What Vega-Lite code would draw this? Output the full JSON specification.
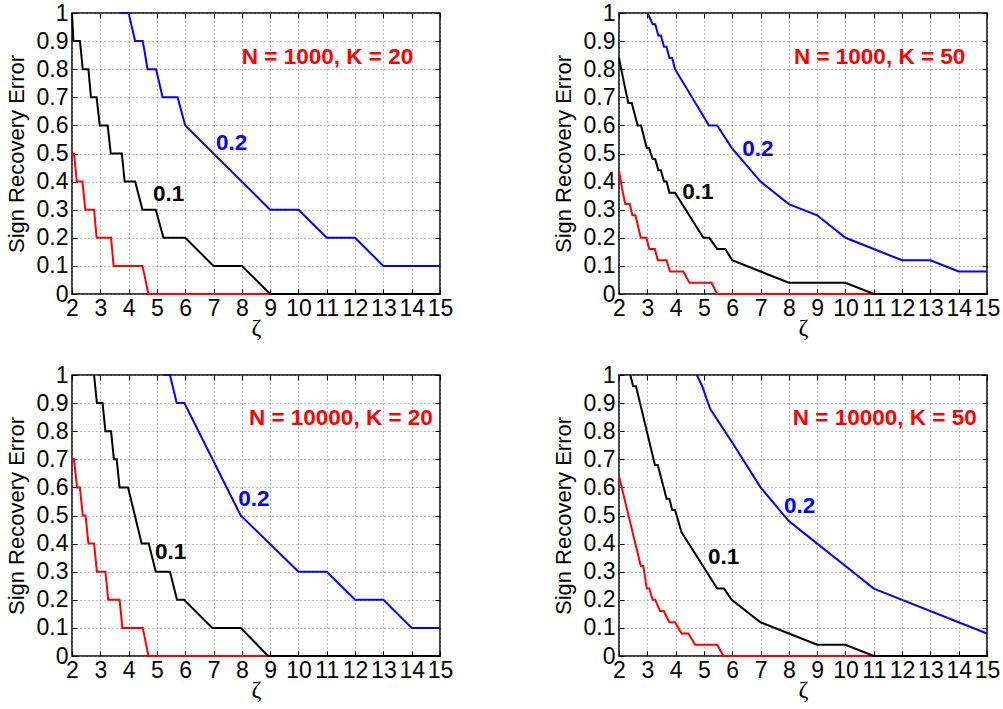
{
  "$schema": "https://vega.github.io/schema/vega-lite/v6.json",
  "padding": {"left": 4, "top": 1, "right": 2, "bottom": 2},
  "background": "white",
  "config": {
    "font": "Liberation Sans",
    "view": {"stroke": "black", "strokeWidth": 1.5},
    "axis": {
      "labelFont": "Liberation Sans",
      "labelFontSize": 23,
      "labelColor": "black",
      "labelFlush": false,
      "labelOverlap": false,
      "labelBound": false,
      "tickColor": "black",
      "tickWidth": 1,
      "tickSize": -5,
      "domain": false,
      "gridColor": "#7a7a7a",
      "gridDash": [1, 3],
      "gridWidth": 1,
      "gridOpacity": 1
    },
    "axisBottom": {
      "labelPadding": 8,
      "grid": true,
      "titleFont": "Liberation Serif",
      "titleFontSize": 24,
      "titleFontWeight": "normal",
      "titleColor": "black",
      "titlePadding": -5
    },
    "axisLeft": {
      "labelPadding": 9,
      "grid": true,
      "titleFont": "Liberation Sans",
      "titleFontSize": 22,
      "titleFontWeight": "normal",
      "titleColor": "black",
      "titlePadding": 8
    },
    "axisTop": {"labels": false, "grid": false},
    "axisRight": {"labels": false, "grid": false},
    "line": {"strokeWidth": 2},
    "text": {"align": "left", "baseline": "middle", "fontSize": 22.5, "fontWeight": "bold", "font": "Liberation Sans"}
  },
  "data": {
    "values": [
      {"panel": "N = 1000, K = 20", "kind": "line", "series": "red", "x": 2, "y": 0.5},
      {"panel": "N = 1000, K = 20", "kind": "line", "series": "red", "x": 2.07, "y": 0.5},
      {"panel": "N = 1000, K = 20", "kind": "line", "series": "red", "x": 2.17, "y": 0.4},
      {"panel": "N = 1000, K = 20", "kind": "line", "series": "red", "x": 2.37, "y": 0.4},
      {"panel": "N = 1000, K = 20", "kind": "line", "series": "red", "x": 2.47, "y": 0.3},
      {"panel": "N = 1000, K = 20", "kind": "line", "series": "red", "x": 2.78, "y": 0.3},
      {"panel": "N = 1000, K = 20", "kind": "line", "series": "red", "x": 2.87, "y": 0.2},
      {"panel": "N = 1000, K = 20", "kind": "line", "series": "red", "x": 3.38, "y": 0.2},
      {"panel": "N = 1000, K = 20", "kind": "line", "series": "red", "x": 3.47, "y": 0.1},
      {"panel": "N = 1000, K = 20", "kind": "line", "series": "red", "x": 4.49, "y": 0.1},
      {"panel": "N = 1000, K = 20", "kind": "line", "series": "red", "x": 4.7, "y": 0},
      {"panel": "N = 1000, K = 20", "kind": "line", "series": "red", "x": 15, "y": 0},
      {"panel": "N = 1000, K = 50", "kind": "line", "series": "red", "x": 2, "y": 0.44},
      {"panel": "N = 1000, K = 50", "kind": "line", "series": "red", "x": 2.1, "y": 0.38},
      {"panel": "N = 1000, K = 50", "kind": "line", "series": "red", "x": 2.22, "y": 0.32},
      {"panel": "N = 1000, K = 50", "kind": "line", "series": "red", "x": 2.38, "y": 0.32},
      {"panel": "N = 1000, K = 50", "kind": "line", "series": "red", "x": 2.47, "y": 0.28},
      {"panel": "N = 1000, K = 50", "kind": "line", "series": "red", "x": 2.58, "y": 0.28},
      {"panel": "N = 1000, K = 50", "kind": "line", "series": "red", "x": 2.77, "y": 0.2},
      {"panel": "N = 1000, K = 50", "kind": "line", "series": "red", "x": 2.97, "y": 0.2},
      {"panel": "N = 1000, K = 50", "kind": "line", "series": "red", "x": 3.07, "y": 0.16},
      {"panel": "N = 1000, K = 50", "kind": "line", "series": "red", "x": 3.27, "y": 0.16},
      {"panel": "N = 1000, K = 50", "kind": "line", "series": "red", "x": 3.37, "y": 0.12},
      {"panel": "N = 1000, K = 50", "kind": "line", "series": "red", "x": 3.68, "y": 0.12},
      {"panel": "N = 1000, K = 50", "kind": "line", "series": "red", "x": 3.8, "y": 0.08},
      {"panel": "N = 1000, K = 50", "kind": "line", "series": "red", "x": 4.27, "y": 0.08},
      {"panel": "N = 1000, K = 50", "kind": "line", "series": "red", "x": 4.49, "y": 0.04},
      {"panel": "N = 1000, K = 50", "kind": "line", "series": "red", "x": 5.27, "y": 0.04},
      {"panel": "N = 1000, K = 50", "kind": "line", "series": "red", "x": 5.47, "y": 0},
      {"panel": "N = 1000, K = 50", "kind": "line", "series": "red", "x": 15, "y": 0},
      {"panel": "N = 10000, K = 20", "kind": "line", "series": "red", "x": 2, "y": 0.7},
      {"panel": "N = 10000, K = 20", "kind": "line", "series": "red", "x": 2.07, "y": 0.7},
      {"panel": "N = 10000, K = 20", "kind": "line", "series": "red", "x": 2.18, "y": 0.6},
      {"panel": "N = 10000, K = 20", "kind": "line", "series": "red", "x": 2.28, "y": 0.6},
      {"panel": "N = 10000, K = 20", "kind": "line", "series": "red", "x": 2.38, "y": 0.5},
      {"panel": "N = 10000, K = 20", "kind": "line", "series": "red", "x": 2.48, "y": 0.5},
      {"panel": "N = 10000, K = 20", "kind": "line", "series": "red", "x": 2.58, "y": 0.4},
      {"panel": "N = 10000, K = 20", "kind": "line", "series": "red", "x": 2.78, "y": 0.4},
      {"panel": "N = 10000, K = 20", "kind": "line", "series": "red", "x": 2.88, "y": 0.3},
      {"panel": "N = 10000, K = 20", "kind": "line", "series": "red", "x": 3.18, "y": 0.3},
      {"panel": "N = 10000, K = 20", "kind": "line", "series": "red", "x": 3.28, "y": 0.2},
      {"panel": "N = 10000, K = 20", "kind": "line", "series": "red", "x": 3.68, "y": 0.2},
      {"panel": "N = 10000, K = 20", "kind": "line", "series": "red", "x": 3.78, "y": 0.1},
      {"panel": "N = 10000, K = 20", "kind": "line", "series": "red", "x": 4.5, "y": 0.1},
      {"panel": "N = 10000, K = 20", "kind": "line", "series": "red", "x": 4.7, "y": 0},
      {"panel": "N = 10000, K = 20", "kind": "line", "series": "red", "x": 15, "y": 0},
      {"panel": "N = 10000, K = 50", "kind": "line", "series": "red", "x": 2, "y": 0.64},
      {"panel": "N = 10000, K = 50", "kind": "line", "series": "red", "x": 2.77, "y": 0.32},
      {"panel": "N = 10000, K = 50", "kind": "line", "series": "red", "x": 2.86, "y": 0.32},
      {"panel": "N = 10000, K = 50", "kind": "line", "series": "red", "x": 2.98, "y": 0.24},
      {"panel": "N = 10000, K = 50", "kind": "line", "series": "red", "x": 3.07, "y": 0.24},
      {"panel": "N = 10000, K = 50", "kind": "line", "series": "red", "x": 3.19, "y": 0.2},
      {"panel": "N = 10000, K = 50", "kind": "line", "series": "red", "x": 3.28, "y": 0.2},
      {"panel": "N = 10000, K = 50", "kind": "line", "series": "red", "x": 3.45, "y": 0.16},
      {"panel": "N = 10000, K = 50", "kind": "line", "series": "red", "x": 3.58, "y": 0.16},
      {"panel": "N = 10000, K = 50", "kind": "line", "series": "red", "x": 3.78, "y": 0.12},
      {"panel": "N = 10000, K = 50", "kind": "line", "series": "red", "x": 3.98, "y": 0.12},
      {"panel": "N = 10000, K = 50", "kind": "line", "series": "red", "x": 4.21, "y": 0.08},
      {"panel": "N = 10000, K = 50", "kind": "line", "series": "red", "x": 4.45, "y": 0.08},
      {"panel": "N = 10000, K = 50", "kind": "line", "series": "red", "x": 4.69, "y": 0.04},
      {"panel": "N = 10000, K = 50", "kind": "line", "series": "red", "x": 5.47, "y": 0.04},
      {"panel": "N = 10000, K = 50", "kind": "line", "series": "red", "x": 5.69, "y": 0},
      {"panel": "N = 10000, K = 50", "kind": "line", "series": "red", "x": 15, "y": 0},

      {"panel": "N = 1000, K = 20", "kind": "line", "series": "0.1", "x": 2, "y": 1},
      {"panel": "N = 1000, K = 20", "kind": "line", "series": "0.1", "x": 2.05, "y": 0.9},
      {"panel": "N = 1000, K = 20", "kind": "line", "series": "0.1", "x": 2.28, "y": 0.9},
      {"panel": "N = 1000, K = 20", "kind": "line", "series": "0.1", "x": 2.38, "y": 0.8},
      {"panel": "N = 1000, K = 20", "kind": "line", "series": "0.1", "x": 2.58, "y": 0.8},
      {"panel": "N = 1000, K = 20", "kind": "line", "series": "0.1", "x": 2.67, "y": 0.7},
      {"panel": "N = 1000, K = 20", "kind": "line", "series": "0.1", "x": 2.87, "y": 0.7},
      {"panel": "N = 1000, K = 20", "kind": "line", "series": "0.1", "x": 2.98, "y": 0.6},
      {"panel": "N = 1000, K = 20", "kind": "line", "series": "0.1", "x": 3.26, "y": 0.6},
      {"panel": "N = 1000, K = 20", "kind": "line", "series": "0.1", "x": 3.37, "y": 0.5},
      {"panel": "N = 1000, K = 20", "kind": "line", "series": "0.1", "x": 3.76, "y": 0.5},
      {"panel": "N = 1000, K = 20", "kind": "line", "series": "0.1", "x": 3.86, "y": 0.4},
      {"panel": "N = 1000, K = 20", "kind": "line", "series": "0.1", "x": 4.23, "y": 0.4},
      {"panel": "N = 1000, K = 20", "kind": "line", "series": "0.1", "x": 4.49, "y": 0.3},
      {"panel": "N = 1000, K = 20", "kind": "line", "series": "0.1", "x": 4.96, "y": 0.3},
      {"panel": "N = 1000, K = 20", "kind": "line", "series": "0.1", "x": 5.23, "y": 0.2},
      {"panel": "N = 1000, K = 20", "kind": "line", "series": "0.1", "x": 6, "y": 0.2},
      {"panel": "N = 1000, K = 20", "kind": "line", "series": "0.1", "x": 7, "y": 0.1},
      {"panel": "N = 1000, K = 20", "kind": "line", "series": "0.1", "x": 8, "y": 0.1},
      {"panel": "N = 1000, K = 20", "kind": "line", "series": "0.1", "x": 9, "y": 0},
      {"panel": "N = 1000, K = 20", "kind": "line", "series": "0.1", "x": 15, "y": 0},
      {"panel": "N = 1000, K = 50", "kind": "line", "series": "0.1", "x": 2, "y": 0.84},
      {"panel": "N = 1000, K = 50", "kind": "line", "series": "0.1", "x": 2.2, "y": 0.74},
      {"panel": "N = 1000, K = 50", "kind": "line", "series": "0.1", "x": 2.33, "y": 0.68},
      {"panel": "N = 1000, K = 50", "kind": "line", "series": "0.1", "x": 2.45, "y": 0.68},
      {"panel": "N = 1000, K = 50", "kind": "line", "series": "0.1", "x": 2.66, "y": 0.6},
      {"panel": "N = 1000, K = 50", "kind": "line", "series": "0.1", "x": 2.78, "y": 0.6},
      {"panel": "N = 1000, K = 50", "kind": "line", "series": "0.1", "x": 2.98, "y": 0.52},
      {"panel": "N = 1000, K = 50", "kind": "line", "series": "0.1", "x": 3.06, "y": 0.52},
      {"panel": "N = 1000, K = 50", "kind": "line", "series": "0.1", "x": 3.19, "y": 0.48},
      {"panel": "N = 1000, K = 50", "kind": "line", "series": "0.1", "x": 3.28, "y": 0.48},
      {"panel": "N = 1000, K = 50", "kind": "line", "series": "0.1", "x": 3.39, "y": 0.44},
      {"panel": "N = 1000, K = 50", "kind": "line", "series": "0.1", "x": 3.48, "y": 0.44},
      {"panel": "N = 1000, K = 50", "kind": "line", "series": "0.1", "x": 3.59, "y": 0.4},
      {"panel": "N = 1000, K = 50", "kind": "line", "series": "0.1", "x": 3.68, "y": 0.4},
      {"panel": "N = 1000, K = 50", "kind": "line", "series": "0.1", "x": 3.78, "y": 0.36},
      {"panel": "N = 1000, K = 50", "kind": "line", "series": "0.1", "x": 3.98, "y": 0.36},
      {"panel": "N = 1000, K = 50", "kind": "line", "series": "0.1", "x": 4.98, "y": 0.2},
      {"panel": "N = 1000, K = 50", "kind": "line", "series": "0.1", "x": 5.19, "y": 0.2},
      {"panel": "N = 1000, K = 50", "kind": "line", "series": "0.1", "x": 5.47, "y": 0.16},
      {"panel": "N = 1000, K = 50", "kind": "line", "series": "0.1", "x": 5.75, "y": 0.16},
      {"panel": "N = 1000, K = 50", "kind": "line", "series": "0.1", "x": 6, "y": 0.12},
      {"panel": "N = 1000, K = 50", "kind": "line", "series": "0.1", "x": 7, "y": 0.08},
      {"panel": "N = 1000, K = 50", "kind": "line", "series": "0.1", "x": 8, "y": 0.04},
      {"panel": "N = 1000, K = 50", "kind": "line", "series": "0.1", "x": 10, "y": 0.04},
      {"panel": "N = 1000, K = 50", "kind": "line", "series": "0.1", "x": 11, "y": 0},
      {"panel": "N = 1000, K = 50", "kind": "line", "series": "0.1", "x": 15, "y": 0},
      {"panel": "N = 10000, K = 20", "kind": "line", "series": "0.1", "x": 2.78, "y": 1},
      {"panel": "N = 10000, K = 20", "kind": "line", "series": "0.1", "x": 2.88, "y": 0.9},
      {"panel": "N = 10000, K = 20", "kind": "line", "series": "0.1", "x": 3.08, "y": 0.9},
      {"panel": "N = 10000, K = 20", "kind": "line", "series": "0.1", "x": 3.18, "y": 0.8},
      {"panel": "N = 10000, K = 20", "kind": "line", "series": "0.1", "x": 3.38, "y": 0.8},
      {"panel": "N = 10000, K = 20", "kind": "line", "series": "0.1", "x": 3.48, "y": 0.7},
      {"panel": "N = 10000, K = 20", "kind": "line", "series": "0.1", "x": 3.58, "y": 0.7},
      {"panel": "N = 10000, K = 20", "kind": "line", "series": "0.1", "x": 3.68, "y": 0.6},
      {"panel": "N = 10000, K = 20", "kind": "line", "series": "0.1", "x": 3.98, "y": 0.6},
      {"panel": "N = 10000, K = 20", "kind": "line", "series": "0.1", "x": 4.46, "y": 0.4},
      {"panel": "N = 10000, K = 20", "kind": "line", "series": "0.1", "x": 4.71, "y": 0.4},
      {"panel": "N = 10000, K = 20", "kind": "line", "series": "0.1", "x": 4.96, "y": 0.3},
      {"panel": "N = 10000, K = 20", "kind": "line", "series": "0.1", "x": 5.46, "y": 0.3},
      {"panel": "N = 10000, K = 20", "kind": "line", "series": "0.1", "x": 5.71, "y": 0.2},
      {"panel": "N = 10000, K = 20", "kind": "line", "series": "0.1", "x": 5.96, "y": 0.2},
      {"panel": "N = 10000, K = 20", "kind": "line", "series": "0.1", "x": 6.96, "y": 0.1},
      {"panel": "N = 10000, K = 20", "kind": "line", "series": "0.1", "x": 7.96, "y": 0.1},
      {"panel": "N = 10000, K = 20", "kind": "line", "series": "0.1", "x": 8.93, "y": 0},
      {"panel": "N = 10000, K = 20", "kind": "line", "series": "0.1", "x": 15, "y": 0},
      {"panel": "N = 10000, K = 50", "kind": "line", "series": "0.1", "x": 2.4, "y": 1},
      {"panel": "N = 10000, K = 50", "kind": "line", "series": "0.1", "x": 2.5, "y": 0.96},
      {"panel": "N = 10000, K = 50", "kind": "line", "series": "0.1", "x": 2.6, "y": 0.96},
      {"panel": "N = 10000, K = 50", "kind": "line", "series": "0.1", "x": 3.27, "y": 0.68},
      {"panel": "N = 10000, K = 50", "kind": "line", "series": "0.1", "x": 3.37, "y": 0.68},
      {"panel": "N = 10000, K = 50", "kind": "line", "series": "0.1", "x": 3.68, "y": 0.56},
      {"panel": "N = 10000, K = 50", "kind": "line", "series": "0.1", "x": 3.78, "y": 0.56},
      {"panel": "N = 10000, K = 50", "kind": "line", "series": "0.1", "x": 3.88, "y": 0.52},
      {"panel": "N = 10000, K = 50", "kind": "line", "series": "0.1", "x": 3.98, "y": 0.52},
      {"panel": "N = 10000, K = 50", "kind": "line", "series": "0.1", "x": 4.21, "y": 0.44},
      {"panel": "N = 10000, K = 50", "kind": "line", "series": "0.1", "x": 5.47, "y": 0.24},
      {"panel": "N = 10000, K = 50", "kind": "line", "series": "0.1", "x": 5.71, "y": 0.24},
      {"panel": "N = 10000, K = 50", "kind": "line", "series": "0.1", "x": 5.98, "y": 0.2},
      {"panel": "N = 10000, K = 50", "kind": "line", "series": "0.1", "x": 7, "y": 0.12},
      {"panel": "N = 10000, K = 50", "kind": "line", "series": "0.1", "x": 8, "y": 0.08},
      {"panel": "N = 10000, K = 50", "kind": "line", "series": "0.1", "x": 9, "y": 0.04},
      {"panel": "N = 10000, K = 50", "kind": "line", "series": "0.1", "x": 10, "y": 0.04},
      {"panel": "N = 10000, K = 50", "kind": "line", "series": "0.1", "x": 11, "y": 0},
      {"panel": "N = 10000, K = 50", "kind": "line", "series": "0.1", "x": 15, "y": 0},

      {"panel": "N = 1000, K = 20", "kind": "line", "series": "0.2", "x": 3.7, "y": 1},
      {"panel": "N = 1000, K = 20", "kind": "line", "series": "0.2", "x": 4, "y": 1},
      {"panel": "N = 1000, K = 20", "kind": "line", "series": "0.2", "x": 4.23, "y": 0.9},
      {"panel": "N = 1000, K = 20", "kind": "line", "series": "0.2", "x": 4.5, "y": 0.9},
      {"panel": "N = 1000, K = 20", "kind": "line", "series": "0.2", "x": 4.67, "y": 0.8},
      {"panel": "N = 1000, K = 20", "kind": "line", "series": "0.2", "x": 4.97, "y": 0.8},
      {"panel": "N = 1000, K = 20", "kind": "line", "series": "0.2", "x": 5.2, "y": 0.7},
      {"panel": "N = 1000, K = 20", "kind": "line", "series": "0.2", "x": 5.73, "y": 0.7},
      {"panel": "N = 1000, K = 20", "kind": "line", "series": "0.2", "x": 6, "y": 0.6},
      {"panel": "N = 1000, K = 20", "kind": "line", "series": "0.2", "x": 9, "y": 0.3},
      {"panel": "N = 1000, K = 20", "kind": "line", "series": "0.2", "x": 10, "y": 0.3},
      {"panel": "N = 1000, K = 20", "kind": "line", "series": "0.2", "x": 11, "y": 0.2},
      {"panel": "N = 1000, K = 20", "kind": "line", "series": "0.2", "x": 12, "y": 0.2},
      {"panel": "N = 1000, K = 20", "kind": "line", "series": "0.2", "x": 13, "y": 0.1},
      {"panel": "N = 1000, K = 20", "kind": "line", "series": "0.2", "x": 15, "y": 0.1},
      {"panel": "N = 1000, K = 50", "kind": "line", "series": "0.2", "x": 3.01, "y": 1},
      {"panel": "N = 1000, K = 50", "kind": "line", "series": "0.2", "x": 3.19, "y": 0.96},
      {"panel": "N = 1000, K = 50", "kind": "line", "series": "0.2", "x": 3.28, "y": 0.96},
      {"panel": "N = 1000, K = 50", "kind": "line", "series": "0.2", "x": 3.39, "y": 0.92},
      {"panel": "N = 1000, K = 50", "kind": "line", "series": "0.2", "x": 3.48, "y": 0.92},
      {"panel": "N = 1000, K = 50", "kind": "line", "series": "0.2", "x": 3.59, "y": 0.88},
      {"panel": "N = 1000, K = 50", "kind": "line", "series": "0.2", "x": 3.68, "y": 0.88},
      {"panel": "N = 1000, K = 50", "kind": "line", "series": "0.2", "x": 3.78, "y": 0.84},
      {"panel": "N = 1000, K = 50", "kind": "line", "series": "0.2", "x": 3.88, "y": 0.84},
      {"panel": "N = 1000, K = 50", "kind": "line", "series": "0.2", "x": 3.98, "y": 0.8},
      {"panel": "N = 1000, K = 50", "kind": "line", "series": "0.2", "x": 5.18, "y": 0.6},
      {"panel": "N = 1000, K = 50", "kind": "line", "series": "0.2", "x": 5.47, "y": 0.6},
      {"panel": "N = 1000, K = 50", "kind": "line", "series": "0.2", "x": 5.98, "y": 0.52},
      {"panel": "N = 1000, K = 50", "kind": "line", "series": "0.2", "x": 7, "y": 0.4},
      {"panel": "N = 1000, K = 50", "kind": "line", "series": "0.2", "x": 8, "y": 0.32},
      {"panel": "N = 1000, K = 50", "kind": "line", "series": "0.2", "x": 9, "y": 0.28},
      {"panel": "N = 1000, K = 50", "kind": "line", "series": "0.2", "x": 10, "y": 0.2},
      {"panel": "N = 1000, K = 50", "kind": "line", "series": "0.2", "x": 11, "y": 0.16},
      {"panel": "N = 1000, K = 50", "kind": "line", "series": "0.2", "x": 12, "y": 0.12},
      {"panel": "N = 1000, K = 50", "kind": "line", "series": "0.2", "x": 13, "y": 0.12},
      {"panel": "N = 1000, K = 50", "kind": "line", "series": "0.2", "x": 14, "y": 0.08},
      {"panel": "N = 1000, K = 50", "kind": "line", "series": "0.2", "x": 15, "y": 0.08},
      {"panel": "N = 10000, K = 20", "kind": "line", "series": "0.2", "x": 5.25, "y": 1},
      {"panel": "N = 10000, K = 20", "kind": "line", "series": "0.2", "x": 5.46, "y": 1},
      {"panel": "N = 10000, K = 20", "kind": "line", "series": "0.2", "x": 5.7, "y": 0.9},
      {"panel": "N = 10000, K = 20", "kind": "line", "series": "0.2", "x": 5.97, "y": 0.9},
      {"panel": "N = 10000, K = 20", "kind": "line", "series": "0.2", "x": 7.96, "y": 0.5},
      {"panel": "N = 10000, K = 20", "kind": "line", "series": "0.2", "x": 10, "y": 0.3},
      {"panel": "N = 10000, K = 20", "kind": "line", "series": "0.2", "x": 11, "y": 0.3},
      {"panel": "N = 10000, K = 20", "kind": "line", "series": "0.2", "x": 12, "y": 0.2},
      {"panel": "N = 10000, K = 20", "kind": "line", "series": "0.2", "x": 13, "y": 0.2},
      {"panel": "N = 10000, K = 20", "kind": "line", "series": "0.2", "x": 14, "y": 0.1},
      {"panel": "N = 10000, K = 20", "kind": "line", "series": "0.2", "x": 15, "y": 0.1},
      {"panel": "N = 10000, K = 50", "kind": "line", "series": "0.2", "x": 4.75, "y": 1},
      {"panel": "N = 10000, K = 50", "kind": "line", "series": "0.2", "x": 4.94, "y": 0.96},
      {"panel": "N = 10000, K = 50", "kind": "line", "series": "0.2", "x": 5.22, "y": 0.88},
      {"panel": "N = 10000, K = 50", "kind": "line", "series": "0.2", "x": 6, "y": 0.76},
      {"panel": "N = 10000, K = 50", "kind": "line", "series": "0.2", "x": 7, "y": 0.6},
      {"panel": "N = 10000, K = 50", "kind": "line", "series": "0.2", "x": 8, "y": 0.48},
      {"panel": "N = 10000, K = 50", "kind": "line", "series": "0.2", "x": 9, "y": 0.4},
      {"panel": "N = 10000, K = 50", "kind": "line", "series": "0.2", "x": 10, "y": 0.32},
      {"panel": "N = 10000, K = 50", "kind": "line", "series": "0.2", "x": 11, "y": 0.24},
      {"panel": "N = 10000, K = 50", "kind": "line", "series": "0.2", "x": 15, "y": 0.08},

      {"panel": "N = 1000, K = 20", "kind": "label", "series": "0.1", "label": "0.1", "x": 4.86, "y": 0.356},
      {"panel": "N = 1000, K = 20", "kind": "label", "series": "0.2", "label": "0.2", "x": 7.09, "y": 0.537},
      {"panel": "N = 1000, K = 20", "kind": "label", "series": "title", "label": "N = 1000, K = 20", "x": 8.0, "y": 0.845},
      {"panel": "N = 1000, K = 50", "kind": "label", "series": "0.1", "label": "0.1", "x": 4.23, "y": 0.363},
      {"panel": "N = 1000, K = 50", "kind": "label", "series": "0.2", "label": "0.2", "x": 6.35, "y": 0.516},
      {"panel": "N = 1000, K = 50", "kind": "label", "series": "title", "label": "N = 1000, K = 50", "x": 8.18, "y": 0.845},
      {"panel": "N = 10000, K = 20", "kind": "label", "series": "0.1", "label": "0.1", "x": 4.93, "y": 0.37},
      {"panel": "N = 10000, K = 20", "kind": "label", "series": "0.2", "label": "0.2", "x": 7.87, "y": 0.559},
      {"panel": "N = 10000, K = 20", "kind": "label", "series": "title", "label": "N = 10000, K = 20", "x": 8.25, "y": 0.847},
      {"panel": "N = 10000, K = 50", "kind": "label", "series": "0.1", "label": "0.1", "x": 5.14, "y": 0.352},
      {"panel": "N = 10000, K = 50", "kind": "label", "series": "0.2", "label": "0.2", "x": 7.83, "y": 0.534},
      {"panel": "N = 10000, K = 50", "kind": "label", "series": "title", "label": "N = 10000, K = 50", "x": 8.14, "y": 0.847}
    ]
  },
  "columns": 2,
  "spacing": {"row": 23, "column": 97},
  "concat": [
    {
      "width": 368, "height": 281,
      "transform": [{"filter": "datum.panel === 'N = 1000, K = 20'"}],
      "layer": [
        {
          "transform": [{"filter": "datum.kind === 'line'"}],
          "mark": "line",
          "encoding": {
            "x": {"field": "x", "type": "quantitative", "scale": {"domain": [2, 15], "nice": false, "zero": false},
              "axis": {"orient": "bottom", "values": [2, 3, 4, 5, 6, 7, 8, 9, 10, 11, 12, 13, 14, 15], "format": "d", "title": "ζ"}},
            "y": {"field": "y", "type": "quantitative", "scale": {"domain": [0, 1], "nice": false, "zero": false},
              "axis": {"orient": "left", "values": [0, 0.1, 0.2, 0.3, 0.4, 0.5, 0.6, 0.7, 0.8, 0.9, 1], "format": "~g", "title": "Sign Recovery Error"}},
            "color": {"field": "series", "type": "nominal", "scale": {"domain": ["red", "0.1", "0.2", "title"], "range": ["#ff0000", "#000000", "#0000ff", "#ff0000"]}, "legend": null}
          }
        },
        {
          "transform": [{"filter": "datum.kind === 'label'"}],
          "mark": "text",
          "encoding": {
            "x": {"field": "x", "type": "quantitative", "axis": {"orient": "top", "values": [2, 3, 4, 5, 6, 7, 8, 9, 10, 11, 12, 13, 14, 15], "title": null}},
            "y": {"field": "y", "type": "quantitative", "axis": {"orient": "right", "values": [0, 0.1, 0.2, 0.3, 0.4, 0.5, 0.6, 0.7, 0.8, 0.9, 1], "title": null}},
            "text": {"field": "label", "type": "nominal"},
            "color": {"field": "series", "type": "nominal", "legend": null}
          }
        }
      ],
      "resolve": {"axis": {"x": "independent", "y": "independent"}}
    },
    {
      "width": 368, "height": 281,
      "transform": [{"filter": "datum.panel === 'N = 1000, K = 50'"}],
      "layer": [
        {
          "transform": [{"filter": "datum.kind === 'line'"}],
          "mark": "line",
          "encoding": {
            "x": {"field": "x", "type": "quantitative", "scale": {"domain": [2, 15], "nice": false, "zero": false},
              "axis": {"orient": "bottom", "values": [2, 3, 4, 5, 6, 7, 8, 9, 10, 11, 12, 13, 14, 15], "format": "d", "title": "ζ"}},
            "y": {"field": "y", "type": "quantitative", "scale": {"domain": [0, 1], "nice": false, "zero": false},
              "axis": {"orient": "left", "values": [0, 0.1, 0.2, 0.3, 0.4, 0.5, 0.6, 0.7, 0.8, 0.9, 1], "format": "~g", "title": "Sign Recovery Error"}},
            "color": {"field": "series", "type": "nominal", "scale": {"domain": ["red", "0.1", "0.2", "title"], "range": ["#ff0000", "#000000", "#0000ff", "#ff0000"]}, "legend": null}
          }
        },
        {
          "transform": [{"filter": "datum.kind === 'label'"}],
          "mark": "text",
          "encoding": {
            "x": {"field": "x", "type": "quantitative", "axis": {"orient": "top", "values": [2, 3, 4, 5, 6, 7, 8, 9, 10, 11, 12, 13, 14, 15], "title": null}},
            "y": {"field": "y", "type": "quantitative", "axis": {"orient": "right", "values": [0, 0.1, 0.2, 0.3, 0.4, 0.5, 0.6, 0.7, 0.8, 0.9, 1], "title": null}},
            "text": {"field": "label", "type": "nominal"},
            "color": {"field": "series", "type": "nominal", "legend": null}
          }
        }
      ],
      "resolve": {"axis": {"x": "independent", "y": "independent"}}
    },
    {
      "width": 368, "height": 281,
      "transform": [{"filter": "datum.panel === 'N = 10000, K = 20'"}],
      "layer": [
        {
          "transform": [{"filter": "datum.kind === 'line'"}],
          "mark": "line",
          "encoding": {
            "x": {"field": "x", "type": "quantitative", "scale": {"domain": [2, 15], "nice": false, "zero": false},
              "axis": {"orient": "bottom", "values": [2, 3, 4, 5, 6, 7, 8, 9, 10, 11, 12, 13, 14, 15], "format": "d", "title": "ζ"}},
            "y": {"field": "y", "type": "quantitative", "scale": {"domain": [0, 1], "nice": false, "zero": false},
              "axis": {"orient": "left", "values": [0, 0.1, 0.2, 0.3, 0.4, 0.5, 0.6, 0.7, 0.8, 0.9, 1], "format": "~g", "title": "Sign Recovery Error"}},
            "color": {"field": "series", "type": "nominal", "scale": {"domain": ["red", "0.1", "0.2", "title"], "range": ["#ff0000", "#000000", "#0000ff", "#ff0000"]}, "legend": null}
          }
        },
        {
          "transform": [{"filter": "datum.kind === 'label'"}],
          "mark": "text",
          "encoding": {
            "x": {"field": "x", "type": "quantitative", "axis": {"orient": "top", "values": [2, 3, 4, 5, 6, 7, 8, 9, 10, 11, 12, 13, 14, 15], "title": null}},
            "y": {"field": "y", "type": "quantitative", "axis": {"orient": "right", "values": [0, 0.1, 0.2, 0.3, 0.4, 0.5, 0.6, 0.7, 0.8, 0.9, 1], "title": null}},
            "text": {"field": "label", "type": "nominal"},
            "color": {"field": "series", "type": "nominal", "legend": null}
          }
        }
      ],
      "resolve": {"axis": {"x": "independent", "y": "independent"}}
    },
    {
      "width": 368, "height": 281,
      "transform": [{"filter": "datum.panel === 'N = 10000, K = 50'"}],
      "layer": [
        {
          "transform": [{"filter": "datum.kind === 'line'"}],
          "mark": "line",
          "encoding": {
            "x": {"field": "x", "type": "quantitative", "scale": {"domain": [2, 15], "nice": false, "zero": false},
              "axis": {"orient": "bottom", "values": [2, 3, 4, 5, 6, 7, 8, 9, 10, 11, 12, 13, 14, 15], "format": "d", "title": "ζ"}},
            "y": {"field": "y", "type": "quantitative", "scale": {"domain": [0, 1], "nice": false, "zero": false},
              "axis": {"orient": "left", "values": [0, 0.1, 0.2, 0.3, 0.4, 0.5, 0.6, 0.7, 0.8, 0.9, 1], "format": "~g", "title": "Sign Recovery Error"}},
            "color": {"field": "series", "type": "nominal", "scale": {"domain": ["red", "0.1", "0.2", "title"], "range": ["#ff0000", "#000000", "#0000ff", "#ff0000"]}, "legend": null}
          }
        },
        {
          "transform": [{"filter": "datum.kind === 'label'"}],
          "mark": "text",
          "encoding": {
            "x": {"field": "x", "type": "quantitative", "axis": {"orient": "top", "values": [2, 3, 4, 5, 6, 7, 8, 9, 10, 11, 12, 13, 14, 15], "title": null}},
            "y": {"field": "y", "type": "quantitative", "axis": {"orient": "right", "values": [0, 0.1, 0.2, 0.3, 0.4, 0.5, 0.6, 0.7, 0.8, 0.9, 1], "title": null}},
            "text": {"field": "label", "type": "nominal"},
            "color": {"field": "series", "type": "nominal", "legend": null}
          }
        }
      ],
      "resolve": {"axis": {"x": "independent", "y": "independent"}}
    }
  ]
}
